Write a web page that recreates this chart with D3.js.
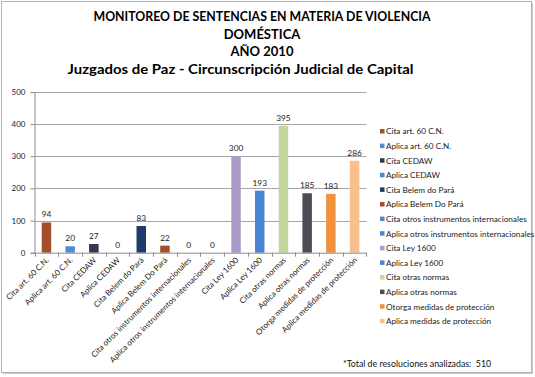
<!DOCTYPE html>
<html>
<head>
<meta charset="utf-8">
<script src="https://cdn.jsdelivr.net/npm/d3@7/dist/d3.min.js"></script>
<style>
  html, body { margin: 0; padding: 0; background: #fff; }
  svg { display: block; font-family: Lato, "Open Sans", sans-serif; }
</style>
</head>
<body>
<svg id="chart" width="535" height="377"></svg>
<script>
const categories = [
  "Cita art. 60 C.N.",
  "Aplica art. 60 C.N.",
  "Cita CEDAW",
  "Aplica CEDAW",
  "Cita Belem do Pará",
  "Aplica Belem Do Pará",
  "Cita otros instrumentos internacionales",
  "Aplica otros instrumentos internacionales",
  "Cita Ley 1600",
  "Aplica Ley 1600",
  "Cita otras normas",
  "Aplica otras normas",
  "Otorga medidas de protección",
  "Aplica medidas de protección"
];
const values = [94, 20, 27, 0, 83, 22, 0, 0, 300, 193, 395, 185, 183, 286];
const colors = ["#a34f2c", "#538bd5", "#36374b", "#4f86cf", "#1f3a6d", "#a34f2c", "#4f86cf",
                "#4f86cf", "#a99cc9", "#4a85d1", "#c3d69b", "#4c4c53", "#f0913f", "#f9bf8f"];
const yTicks = [0, 100, 200, 300, 400, 500];
const titleLines = ["MONITOREO DE SENTENCIAS EN MATERIA DE VIOLENCIA", "DOMÉSTICA", "AÑO 2010"];
const subtitle = "Juzgados de Paz - Circunscripción Judicial de Capital";
const footnote = "*Total de resoluciones analizadas:  510";

const svg = d3.select("#chart");

// frame with shadow
svg.append("rect").attr("x", 3).attr("y", 3).attr("width", 530).attr("height", 371).attr("fill", "#c8c8c8");
svg.append("rect").attr("x", 1.5).attr("y", 1.5).attr("width", 530).attr("height", 371)
  .attr("fill", "#fff").attr("stroke", "#b4b4b4").attr("stroke-width", 1);

// titles
const tg = svg.append("g").attr("font-weight", "bold").attr("fill", "#000").attr("text-anchor", "middle");
titleLines.forEach((t, i) => {
  const el = tg.append("text").attr("x", 262).attr("y", 21 + i * 17.5).attr("font-size", 13).text(t);
  if (i === 0) el.attr("textLength", 337).attr("lengthAdjust", "spacingAndGlyphs");
});
tg.append("text").attr("x", 240.5).attr("y", 73.5).attr("font-size", 13.8)
  .attr("textLength", 346).attr("lengthAdjust", "spacingAndGlyphs").text(subtitle);

const x = d3.scaleBand().domain(categories).range([34.6, 366.4]).paddingInner(0.6).paddingOuter(0.3);
const y = d3.scaleLinear().domain([0, 500]).range([252.7, 92]);

// gridlines
svg.append("g").selectAll("line").data(yTicks.filter(d => d > 0)).join("line")
  .attr("x1", 34.5).attr("x2", 366.4)
  .attr("y1", d => Math.round(y(d)) + 0.5).attr("y2", d => Math.round(y(d)) + 0.5)
  .attr("stroke", "#a6a6a6").attr("stroke-width", 1);

// y axis
const yAxis = svg.append("g").attr("transform", "translate(34.5,0)")
  .call(d3.axisLeft(y).tickValues(yTicks).tickSize(4).tickPadding(5));
yAxis.select(".domain").attr("stroke", "#8c8c8c");
yAxis.selectAll(".tick line").attr("stroke", "#8c8c8c");
yAxis.selectAll(".tick text").attr("font-size", 8).attr("fill", "#222").attr("font-family", "Lato, sans-serif");

// bars
svg.append("g").selectAll("rect").data(categories).join("rect")
  .attr("x", d => x(d))
  .attr("y", (d, i) => y(values[i]))
  .attr("width", x.bandwidth())
  .attr("height", (d, i) => y(0) - y(values[i]))
  .attr("fill", (d, i) => colors[i]);

// data labels
svg.append("g").selectAll("text").data(categories).join("text")
  .attr("x", d => x(d) + x.bandwidth() / 2)
  .attr("y", (d, i) => y(values[i]) - 5)
  .attr("text-anchor", "middle").attr("font-size", 8.3).attr("fill", "#222")
  .text((d, i) => values[i]);

// x axis
const xAxisG = svg.append("g").attr("transform", `translate(0,${y(0)})`);
xAxisG.append("line").attr("x1", 34.5).attr("x2", 366.4).attr("y1", 0.5).attr("y2", 0.5).attr("stroke", "#8c8c8c");
const step = x.step();
const bounds = d3.range(categories.length + 1).map(i => 34.6 + i * step);
xAxisG.selectAll("line.tk").data(bounds).join("line").attr("class", "tk")
  .attr("x1", d => Math.round(d) + 0.5).attr("x2", d => Math.round(d) + 0.5)
  .attr("y1", 0).attr("y2", 4).attr("stroke", "#8c8c8c");
xAxisG.selectAll("text").data(categories).join("text")
  .attr("transform", d => `translate(${x(d) + x.bandwidth() / 2 + 3},8) rotate(-45)`)
  .attr("text-anchor", "end").attr("font-size", 8).attr("fill", "#222")
  .text(d => d);

// legend
const lg = svg.append("g");
categories.forEach((c, i) => {
  const yy = 131.5 + i * 14.6;
  lg.append("rect").attr("x", 380).attr("y", yy - 2.5).attr("width", 4.5).attr("height", 4.5).attr("fill", colors[i]);
  lg.append("text").attr("x", 386).attr("y", yy + 2.8).attr("font-size", 8.2).attr("fill", "#222").text(c);
});

// footnote
svg.append("text").attr("x", 343).attr("y", 367).attr("font-size", 8.8).attr("fill", "#111")
  .style("white-space", "pre").text(footnote);
</script>
</body>
</html>
